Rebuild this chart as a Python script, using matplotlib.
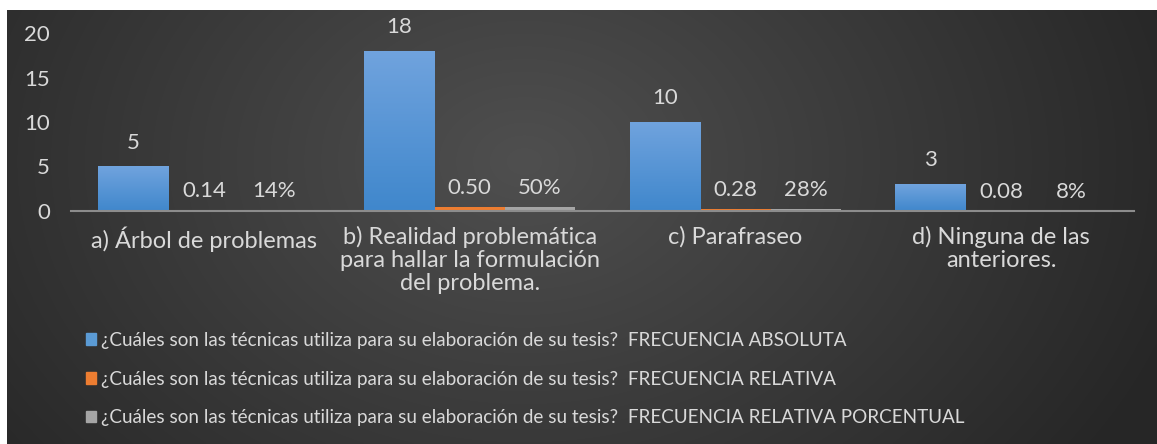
import numpy as np
import matplotlib
matplotlib.use("Agg")
import matplotlib.pyplot as plt
from matplotlib.patches import Patch

#-- Data
categorias = ["a) Árbol de problemas",
              "b) Realidad problemática\npara hallar la formulación\ndel problema.",
              "c) Parafraseo",
              "d) Ninguna de las\nanteriores."]
frec_abs = [5, 18, 10, 3]
frec_rel = [0.14, 0.50, 0.28, 0.08]
frec_pct = [0.14, 0.50, 0.28, 0.08]
pregunta = "¿Cuáles son las técnicas utiliza para su elaboración de su tesis?  "
series = ["FRECUENCIA ABSOLUTA", "FRECUENCIA RELATIVA", "FRECUENCIA RELATIVA PORCENTUAL"]
yticks = [0, 5, 10, 15, 20]

plt.rcParams['font.family'] = ['Lato', 'DejaVu Sans']
txt = '#d9d9d9'
fs = 16

fig = plt.figure(figsize=(11.57, 4.44), dpi=100)
fig.patch.set_facecolor('white')

#-- dark radial background
bg = fig.add_axes([7/1157, 0, 1 - 7/1157, 434/444])
gy, gx = np.mgrid[0:1:200j, 0:1:500j]
r = np.sqrt(((gx - 0.45) / 0.6)**2 + ((gy - 0.35) / 1.2)**2)
shade = np.clip(1 - r, 0, 1)
g = 0.15 + 0.16 * shade
bg.imshow(np.dstack([g, g, g]), aspect='auto', extent=[0, 1, 0, 1], interpolation='bilinear')
bg.set_axis_off()

ax = fig.add_axes([71/1157, 233/444, (1134 - 71)/1157, 178/444])
ax.set_facecolor('none')

x = np.arange(len(categorias))
w = 0.265
b1 = ax.bar(x - w, frec_abs, w, color='#5b9bd5', zorder=2)
b2 = ax.bar(x, frec_rel, w, color='#ed7d31', zorder=2)
b3 = ax.bar(x + w, frec_pct, w, color='#a5a5a5', zorder=2)

# vertical gradient on the blue bars
grad = np.linspace(0, 1, 100).reshape(-1, 1)
top = np.array([0.44, 0.64, 0.87])
bot = np.array([0.25, 0.53, 0.80])
cols = bot + (top - bot) * grad[..., None]
for p in b1:
    x0, y0 = p.get_x(), p.get_y()
    im = ax.imshow(cols, extent=[x0, x0 + p.get_width(), y0, y0 + p.get_height()],
                   origin='lower', aspect='auto', zorder=3)
    im.set_clip_path(p)

for p, v in zip(b1, frec_abs):
    ax.annotate(f"{v}", (p.get_x() + p.get_width()/2, v), xytext=(0, 10),
                textcoords='offset points', ha='center', va='bottom', color=txt, fontsize=fs)
for p, v in zip(b2, frec_rel):
    ax.annotate(f"{v:.2f}", (p.get_x() + p.get_width()/2, v), xytext=(0, 6),
                textcoords='offset points', ha='center', va='bottom', color=txt, fontsize=fs)
for p, v in zip(b3, frec_pct):
    ax.annotate(f"{v*100:.0f}%", (p.get_x() + p.get_width()/2, v), xytext=(0, 6),
                textcoords='offset points', ha='center', va='bottom', color=txt, fontsize=fs)

ax.set_xlim(-0.5, len(categorias) - 0.5)
ax.set_ylim(0, 20)
ax.set_yticks(yticks)
ax.set_xticks(x)
ax.set_xticklabels(categorias, fontsize=17, color=txt, linespacing=1.1)
ax.tick_params(axis='y', length=0, pad=15, labelsize=fs, labelcolor=txt)
ax.tick_params(axis='x', length=0, pad=11)
for s in ['top', 'right', 'left']:
    ax.spines[s].set_visible(False)
ax.spines['bottom'].set_color('#8c8c8c')
ax.spines['bottom'].set_linewidth(1.5)
ax.spines['bottom'].set_zorder(4)

handles = [Patch(color=c) for c in ['#5b9bd5', '#ed7d31', '#a5a5a5']]
fig.legend(handles, [pregunta + s for s in series], loc='center left',
           bbox_to_anchor=(69/1157, 65/444), frameon=False, fontsize=13.6,
           labelcolor=txt, handlelength=0.55, handleheight=0.55, handletextpad=0.25,
           labelspacing=1.15)

fig.savefig("out.png", dpi=100)
